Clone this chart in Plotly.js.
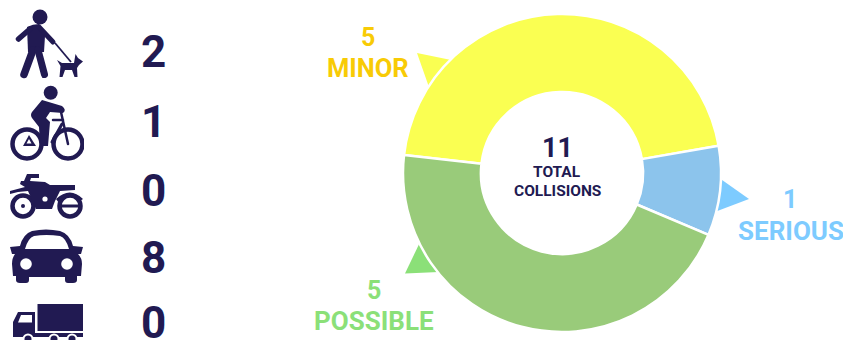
<!DOCTYPE html>
<html><head><meta charset="utf-8">
<script src="https://cdn.plot.ly/plotly-3.0.1.min.js"></script>
<style>html,body{margin:0;padding:0;background:#fff;overflow:hidden}#c{width:843px;height:340px}</style>
</head><body><div id="c"></div>
<script>
const severityNames = ['MINOR','SERIOUS','POSSIBLE'];
const severityValues = [5,1,5];
const sliceColors = ['#FAFF52','#8CC4EC','#99CB7A'];
const labelColors = ['#F8CB05','#7DCBFF','#8BE078'];
const vehicleNames = ['Pedestrian','Bicycle','Motorcycle','Car','Truck'];
const vehicleCounts = [2,1,0,8,0];
const totalCollisions = 11;
const NAVY = '#211A52';
const W = 843, H = 340;
const FONT = 'Roboto, sans-serif';
const px = x => x / W, py = y => 1 - y / H;
const limb = (d,w) => `<path d="${d}" fill="none" stroke="${NAVY}" stroke-width="${w}" stroke-linecap="round" stroke-linejoin="round"/>`;

const icons = [
 {box:[10,5,76,76], svg:`<circle cx="40" cy="17" r="7.5"/>
  <path d="M27 27 Q33 24 39 24 L45 36 L44 52 L28 52 Z"/>
  ${limb('M30 29 L18.500 39',5.500)}${limb('M39 27 L53 42',5)}
  ${limb('M33 50 L24 74.500',7.500)}${limb('M38 50 L44.500 74.500',7)}
  <path d="M55 43 L71 62" stroke="${NAVY}" stroke-width="1.800" fill="none"/>
  <path d="M57 60 L62 63 L74 63 L75.500 54 L78 58 L83 61.500 L79 65 L77 68 L77.500 77 L74.500 77 L72 70 L65 70 L62.500 77 L59.500 77 L60.500 66 Z"/>`},
 {box:[8,84,76,78], svg:`<circle cx="50.700" cy="92.700" r="7"/>
  <circle cx="27" cy="144" r="14.500" fill="none" stroke="${NAVY}" stroke-width="4.500"/>
  <circle cx="68" cy="144" r="14.500" fill="none" stroke="${NAVY}" stroke-width="4.500"/>
  <path d="M42 100 L62 106 Q67 110 63 113 L50 112 L46 118 L50 122 L48 146 L40 146 L39 127 L32 118 Q30 115 32 112 Z"/>
  <path d="M29 135 L36 146 L23 146 Z"/><path d="M29 139 L31.500 143.500 L26.500 143.500 Z" fill="#fff"/>
  ${limb('M53 120 L63 120',2.500)}${limb('M61 112 L68 144',2.500)}${limb('M62 124 L52 142',3)}`},
 {box:[8,172,76,50], svg:`<circle cx="23" cy="206" r="10.500" fill="none" stroke="${NAVY}" stroke-width="4.500"/><circle cx="23" cy="206" r="2"/>
  <circle cx="70" cy="206" r="10.500" fill="none" stroke="${NAVY}" stroke-width="4.500"/>
  <path d="M60 206 L80 206" stroke="${NAVY}" stroke-width="3"/>
  <path d="M27 174 L39 174 L39 178 L31 178 L30 181 L45 182 L50 185 L75 185 L75 190 L60 191 L55 201 L52 209 L36 209 L28 191 L18 192 L10 194 L10 191 L25 187 L20 184 L21 181 L24 181 Z"/>
  <path d="M56 199 Q70 186 83 199 L80 201 Q70 192 59 203 Z"/><circle cx="45" cy="199" r="2.600" fill="#fff"/>`},
 {box:[8,228,78,56], svg:`<path fill-rule="evenodd" d="M32 231 Q46 228 60 231 Q70 234 73 246 L83 247 L81 254 L78 254 Q82 258 82 264 L81 276 L77 276 L77 280 Q77 283 73 283 L68 283 Q65 283 65 280 L65 277 L29 277 L29 280 Q29 283 26 283 L20 283 Q16 283 16 280 L16 276 L13 276 L12 264 Q12 258 15 254 L12 254 L10 247 L20 246 Q23 234 32 231 Z
  M34 236 Q28 238 25 249 L69 249 Q66 238 60 236 Q46 234 34 236 Z"/>
  <circle cx="26" cy="264" r="5.800" fill="#fff"/><circle cx="67" cy="264" r="5.800" fill="#fff"/>`},
 {box:[12,302,72,38], svg:`<path d="M37.500 304 L83 304 L83 331 L37.500 331 Z"/>
  <path fill-rule="evenodd" d="M18 312 L35 312 L35 333 L83 333 L83 337 L13 337 L13 322 Z M21 315 L18 322.500 L32 322.500 L32 315 Z"/>
  <circle cx="28" cy="339" r="5.500" fill="#fff"/><circle cx="54" cy="339" r="5.500" fill="#fff"/><circle cx="72" cy="339" r="5.500" fill="#fff"/>
  <circle cx="28" cy="339" r="3.500"/><circle cx="54" cy="339" r="3.500"/><circle cx="72" cy="339" r="3.500"/>`}
];
const iconImages = icons.map(ic => {
  const [x,y,w,h] = ic.box;
  const svg = `<svg xmlns="http://www.w3.org/2000/svg" width="${w*2}" height="${h*2}" viewBox="${x} ${y} ${w} ${h}"><g fill="${NAVY}">${ic.svg}</g></svg>`;
  return {source:'data:image/svg+xml;base64,'+btoa(svg), xref:'paper', yref:'paper', x:px(x), y:py(y), sizex:w/W, sizey:h/H, sizing:'stretch', xanchor:'left', yanchor:'top', layer:'above'};
});

const tri = (pts,color) => ({type:'path', xref:'paper', yref:'paper', layer:'below', fillcolor:color, line:{width:0},
  path:'M'+pts.map(p=>px(p[0])+' '+py(p[1])).join(' L')+' Z'});
const pointers = [
  tri([[417,53],[456,61],[430,90]], sliceColors[0]),
  tri([[715,175],[749,199],[712,213]], labelColors[1]),
  tri([[405,273.500],[450,271.500],[422,238]], labelColors[2])
];

const text = (x,y,t,size,color,family) => ({xref:'paper',yref:'paper',x:px(x),y:py(y),text:t,showarrow:false,
  xanchor:'center',yanchor:'middle',font:{family:family||FONT,size:size,color:color,weight:700}});
const countY = [52,122,191,258,323];
const annotations = [
  ...vehicleCounts.map((v,i)=>text(153,countY[i],String(v),44,NAVY)),
  text(368,37,String(severityValues[0]),25,labelColors[0]),
  text(368,68,severityNames[0],25.500,labelColors[0]),
  text(790,199,String(severityValues[1]),25,labelColors[1]),
  text(790.500,231,severityNames[1],26,labelColors[1]),
  text(374,290,String(severityValues[2]),25,labelColors[2]),
  text(374,321,severityNames[2],26,labelColors[2]),
  text(557,147.500,String(totalCollisions),27,NAVY,'"Liberation Sans Narrow", Roboto, sans-serif'),
  text(557,172,'TOTAL',15.500,NAVY),
  text(557,190.500,'COLLISIONS',15.500,NAVY)
];
annotations[4].height = 34;

Plotly.newPlot('c',[{
  type:'pie', labels:severityNames, values:severityValues, hole:0.51, sort:false,
  direction:'clockwise', rotation:276.5, textinfo:'none', hoverinfo:'label+value',
  marker:{colors:sliceColors, line:{color:'#fff',width:2.500}},
  domain:{x:[px(403),px(721)], y:[py(332),py(14)]}
}],{
  width:W,height:H,margin:{l:0,r:0,t:0,b:0},showlegend:false,
  paper_bgcolor:'#fff',plot_bgcolor:'#fff',
  shapes:pointers,images:iconImages,annotations:annotations
},{displayModeBar:false,staticPlot:true});
</script></body></html>
